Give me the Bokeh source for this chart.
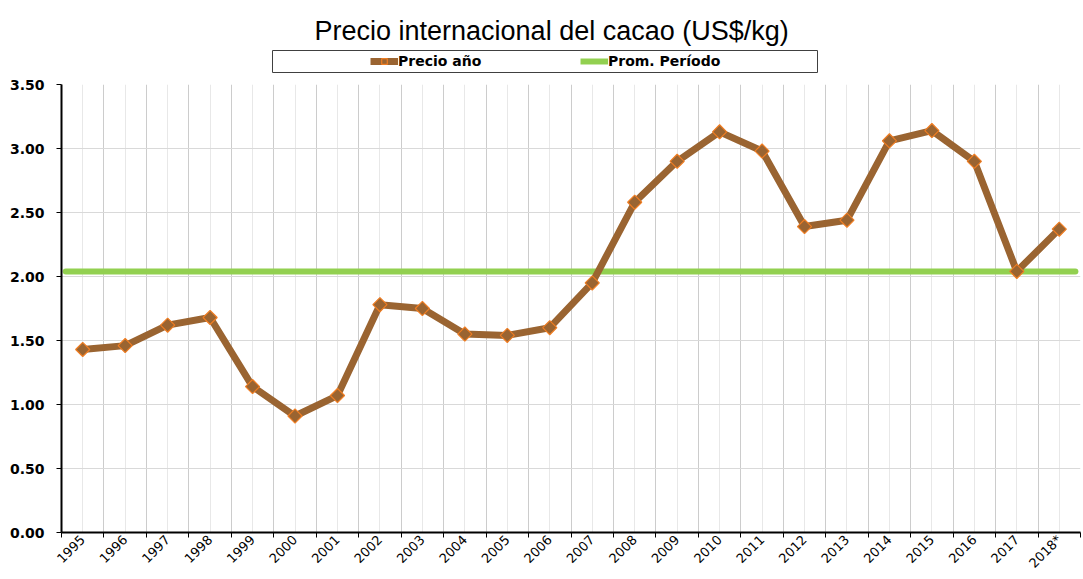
import math
from bokeh.plotting import figure
from bokeh.layouts import column
from bokeh.models import (FixedTicker, NumeralTickFormatter, Legend, LegendItem,
                          ColumnDataSource)
from bokeh.embed import file_html
from bokeh.resources import INLINE

years = ["1995", "1996", "1997", "1998", "1999", "2000", "2001", "2002", "2003",
         "2004", "2005", "2006", "2007", "2008", "2009", "2010", "2011", "2012",
         "2013", "2014", "2015", "2016", "2017", "2018*"]
precio = [1.43, 1.46, 1.62, 1.68, 1.14, 0.91, 1.07, 1.78, 1.75, 1.55, 1.54, 1.60,
          1.95, 2.58, 2.90, 3.13, 2.98, 2.39, 2.44, 3.06, 3.14, 2.90, 2.04, 2.37]
promedio = 2.04
y_ticks = [0.0, 0.5, 1.0, 1.5, 2.0, 2.5, 3.0, 3.5]

BROWN = "#9A6431"
ORANGE = "#F07D22"
GREEN = "#92D050"
NAN = float("nan")

n = len(years)
xs = list(range(n))
src = ColumnDataSource(dict(x=xs, y=precio))

# ---------- header: title + legend box ----------
head = figure(width=1083, height=74, output_backend="svg", toolbar_location=None,
              x_range=(0, 1), y_range=(0, 1),
              x_axis_location=None, y_axis_location=None,
              min_border_left=272, min_border_right=266,
              min_border_top=50, min_border_bottom=2)
head.frame_align = False
head.grid.visible = False
head.outline_line_color = "#404040"
head.outline_line_width = 1
head.title.text = "Precio internacional del cacao (US$/kg)"
head.title.text_font = "Liberation Sans"
head.title.text_font_size = "27px"
head.title.text_font_style = "normal"
head.title.text_color = "black"
head.title.align = "left"
head.title.offset = 42
head.title.standoff = 9

h_ln = head.line([NAN], [NAN], line_color=BROWN, line_width=7)
h_mk = head.scatter([NAN], [NAN], marker="square", angle=math.pi / 4, size=10,
                    fill_color=BROWN, line_color=ORANGE, line_width=1.2)
h_avg = head.line([NAN], [NAN], line_color=GREEN, line_width=6)

legend = Legend(items=[LegendItem(label="Precio año", renderers=[h_ln, h_mk]),
                       LegendItem(label="Prom. Período", renderers=[h_avg])],
                orientation="horizontal", location=(98, 2),
                glyph_width=28, glyph_height=14, label_standoff=0,
                label_width=100, label_height=18, spacing=82,
                padding=0, margin=0,
                border_line_color=None, background_fill_alpha=0,
                label_text_font="DejaVu Sans", label_text_font_style="bold",
                label_text_font_size="14px", label_text_color="black")
head.add_layout(legend, "center")

# ---------- main chart ----------
p = figure(width=1083, height=505, output_backend="svg", toolbar_location=None,
           x_range=(-0.5, n - 0.5), y_range=(0, 3.5),
           min_border_left=61, min_border_right=3, min_border_top=10,
           min_border_bottom=46)
p.frame_align = False
p.outline_line_color = None

p.yaxis.ticker = FixedTicker(ticks=y_ticks)
p.yaxis.formatter = NumeralTickFormatter(format="0.00")
p.yaxis.major_label_text_font = "DejaVu Sans"
p.yaxis.major_label_text_font_style = "bold"
p.yaxis.major_label_text_font_size = "14px"
p.yaxis.major_label_text_color = "black"
p.yaxis.major_label_standoff = 12
p.yaxis.major_tick_in = 0
p.yaxis.major_tick_out = 5
p.yaxis.minor_tick_line_color = None
p.yaxis.axis_line_width = 2
p.yaxis.axis_line_color = "black"
p.yaxis.major_tick_line_color = "black"

p.xaxis.ticker = FixedTicker(ticks=xs, minor_ticks=[i - 0.5 for i in range(n + 1)])
p.xaxis.major_label_overrides = {i: y for i, y in enumerate(years)}
p.xaxis.major_label_orientation = math.pi / 4
p.xaxis.major_label_text_font = "DejaVu Sans"
p.xaxis.major_label_text_font_size = "13px"
p.xaxis.major_label_text_color = "black"
p.xaxis.major_label_standoff = 0
p.xaxis.major_tick_line_color = None
p.xaxis.major_tick_out = 0
p.xaxis.minor_tick_in = 0
p.xaxis.minor_tick_out = 5
p.xaxis.minor_tick_line_color = "black"
p.xaxis.axis_line_width = 2
p.xaxis.axis_line_color = "black"

p.xgrid.grid_line_color = "#e8e8e8"
p.xgrid.minor_grid_line_color = "#cccccc"
p.ygrid.grid_line_color = "#d9d9d9"

p.line([-0.4, n - 0.62], [promedio, promedio], line_color=GREEN,
       line_width=6, line_cap="round")
p.line("x", "y", source=src, line_color=BROWN, line_width=7)
p.scatter("x", "y", source=src, marker="square", angle=math.pi / 4, size=10,
          fill_color=BROWN, line_color=ORANGE, line_width=1.2)

layout = column(head, p, spacing=0)
open("out.html", "w").write(file_html(layout, INLINE))
